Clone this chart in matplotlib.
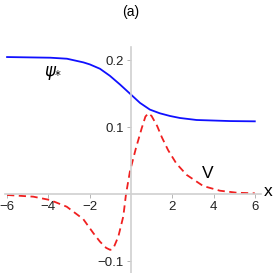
import matplotlib
matplotlib.use("Agg")

import matplotlib.pyplot as plt

# values
psi_x = [-6.0, -3.9, -3.1, -2.3, -1.99, -1.5, -1.02, -0.53, 0.0, 0.44, 0.92, 1.4, 1.89, 2.37, 3.18, 4.8, 6.0]
psi_y = [0.205, 0.204, 0.2025, 0.197, 0.194, 0.1875, 0.177, 0.164, 0.149, 0.1365, 0.1265, 0.121, 0.117,
         0.114, 0.111, 0.1094, 0.109]

v_x = [-6.0, -4.73, -3.92, -3.11, -2.31, -1.82, -1.5, -1.2, -1.0, -0.85, -0.61, -0.37, -0.24,
       -0.05, 0.24, 0.52, 0.7, 0.84, 1.0, 1.27, 1.5, 1.8, 2.2, 2.7, 3.5, 4.31, 5.12, 6.0]
v_y = [-0.001, -0.0035, -0.0085, -0.0185, -0.037, -0.058, -0.0707, -0.080, -0.083, -0.0806, -0.063,
       -0.033, 0.0, 0.034, 0.0687, 0.0985, 0.116, 0.121, 0.117, 0.102, 0.085, 0.066, 0.046, 0.029,
       0.0124, 0.0054, 0.0024, 0.0015]

x_ticks = [-6, -4, -2, 2, 4, 6]
y_ticks = [-0.1, 0.1, 0.2]

W = 273
fig = plt.figure(figsize=(2.73, 2.73), dpi=100)
ax = fig.add_axes([5 / W, 0, 256 / W, 226 / W])
ax.set_xlim(-6.10, 6.30)
ax.set_ylim(-0.1175, 0.22)

font = ["Liberation Sans", "DejaVu Sans"]
axis_grey = "#d0d0d0"

ax.plot(psi_x, psi_y, color="#1010ff", lw=1.3)
ax.plot(v_x, v_y, color="#f02020", lw=1.3, linestyle=(0, (4, 2.5)))

for side in ["top", "right"]:
    ax.spines[side].set_visible(False)
ax.spines["left"].set_position(("data", 0))
ax.spines["bottom"].set_position(("data", 0))
for side in ["left", "bottom"]:
    ax.spines[side].set_color(axis_grey)
    ax.spines[side].set_linewidth(1.2)

ax.set_xticks(x_ticks)
ax.set_xticklabels([str(t).replace("-", "\u2212") for t in x_ticks], family=font, fontsize=9.5)
ax.set_yticks(y_ticks)
ax.set_yticklabels([f"{t:g}".replace("-", "\u2212") for t in y_ticks], family=font, fontsize=9.5)
ax.tick_params(axis="both", color="#aaaaaa", length=3, width=0.6, pad=2, labelcolor="#222222")
ax.patch.set_alpha(0)

fig.text(131 / W, 1 - 12 / W, "(a)", family=font, fontsize=10, ha="center", va="center")
fig.text(53 / W, 1 - 73 / W, r"$\psi_{*}$", fontsize=12, ha="center", va="center")
fig.text(208 / W, 1 - 173 / W, "V", family=font, fontsize=12.5, ha="center", va="center")
fig.text(268 / W, 1 - 191 / W, "x", family=font, fontsize=12.5, ha="center", va="center")

fig.savefig("out.png", dpi=100)
plt.close(fig)
